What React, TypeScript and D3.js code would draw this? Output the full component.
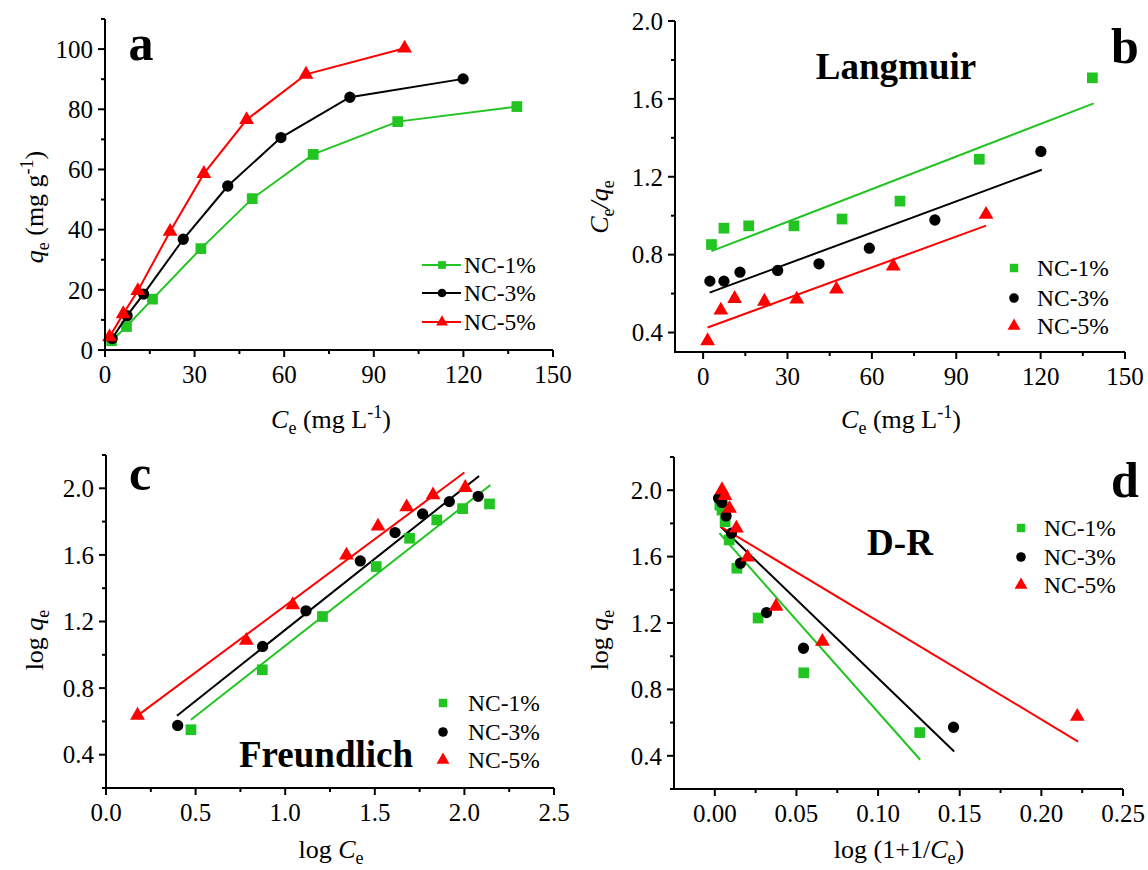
import React from 'react';
import * as d3 from 'd3';

const FONT = "'Liberation Serif','Times New Roman',Times,serif";
const GREEN = '#22c422';
const BLACK = '#000000';
const RED = '#ff0000';

const seriesNames = ['NC-1%', 'NC-3%', 'NC-5%'];

// Panel a: qe vs Ce
const aGreenX = [2.2, 7.2, 15.9, 32.1, 49.3, 69.7, 98.0, 137.9];
const aGreenY = [3.1, 7.8, 16.9, 33.7, 50.3, 65.0, 75.9, 80.9];
const aBlackX = [2.4, 7.4, 12.9, 26.2, 41.1, 58.9, 82.0, 119.9];
const aBlackY = [3.8, 11.4, 18.6, 36.8, 54.5, 70.6, 84.0, 90.1];
const aRedX = [1.5, 6.1, 11.0, 21.8, 33.1, 47.4, 67.3, 100.3];
const aRedY = [4.3, 12.0, 19.7, 39.4, 58.6, 76.5, 91.6, 100.3];

// Panel b: Langmuir Ce/qe vs Ce
const bGreenX = [2.96, 7.4, 16.2, 32.3, 49.4, 70.0, 98.2, 138.4];
const bGreenY = [0.852, 0.936, 0.948, 0.948, 0.983, 1.075, 1.29, 1.708];
const bBlackX = [2.4, 7.4, 13.1, 26.5, 41.2, 59.1, 82.4, 120.1];
const bBlackY = [0.664, 0.664, 0.71, 0.719, 0.753, 0.833, 0.978, 1.33];
const bRedX = [1.6, 6.3, 11.2, 21.8, 33.3, 47.4, 67.6, 100.6];
const bRedY = [0.357, 0.514, 0.574, 0.56, 0.571, 0.622, 0.741, 1.006];
const bGreenFit = [2.96, 0.818, 138.9, 1.577];
const bBlackFit = [2.3, 0.605, 120.4, 1.236];
const bRedFit = [1.6, 0.426, 100.6, 0.949];

// Panel c: Freundlich log qe vs log Ce
const cGreenX = [0.474, 0.872, 1.208, 1.508, 1.694, 1.846, 1.99, 2.14];
const cGreenY = [0.55, 0.91, 1.23, 1.53, 1.70, 1.81, 1.878, 1.906];
const cBlackX = [0.40, 0.874, 1.116, 1.419, 1.613, 1.767, 1.916, 2.077];
const cBlackY = [0.576, 1.05, 1.264, 1.564, 1.734, 1.846, 1.92, 1.952];
const cRedX = [0.176, 0.783, 1.042, 1.342, 1.518, 1.678, 1.825, 2.005];
const cRedY = [0.636, 1.086, 1.30, 1.598, 1.772, 1.888, 1.96, 2.004];
const cGreenFit = [0.474, 0.61, 2.145, 2.02];
const cBlackFit = [0.396, 0.634, 2.082, 2.074];
const cRedFit = [0.17, 0.63, 2.0, 2.095];

// Panel d: D-R log qe vs log(1+1/Ce)
const dGreenX = [0.0031, 0.0044, 0.0063, 0.0088, 0.0135, 0.0265, 0.0545, 0.1255];
const dGreenY = [1.91, 1.88, 1.81, 1.70, 1.53, 1.23, 0.90, 0.54];
const dBlackX = [0.0023, 0.0044, 0.0069, 0.0102, 0.0157, 0.0317, 0.0543, 0.1462];
const dBlackY = [1.952, 1.926, 1.845, 1.741, 1.56, 1.263, 1.048, 0.572];
const dRedX = [0.0044, 0.0062, 0.009, 0.0132, 0.0201, 0.0375, 0.0659, 0.222];
const dRedY = [2.002, 1.966, 1.89, 1.771, 1.596, 1.30, 1.088, 0.637];
const dGreenFit = [0.0028, 1.741, 0.1258, 0.376];
const dBlackFit = [0.0035, 1.781, 0.1466, 0.426];
const dRedFit = [0.0035, 1.781, 0.2225, 0.486];

// Ticks
const aXTicks = [0, 30, 60, 90, 120, 150];
const aXMinor = [15, 45, 75, 105, 135];
const aYTicks = [0, 20, 40, 60, 80, 100];
const aYMinor = [10, 30, 50, 70, 90, 110];
const bXTicks = [0, 30, 60, 90, 120, 150];
const bXMinor = [15, 45, 75, 105, 135];
const bYTicks = [0.4, 0.8, 1.2, 1.6, 2.0];
const bYMinor = [0.6, 1.0, 1.4, 1.8];
const cXTicks = [0, 0.5, 1.0, 1.5, 2.0, 2.5];
const cXMinor = [0.25, 0.75, 1.25, 1.75, 2.25];
const cYTicks = [0.4, 0.8, 1.2, 1.6, 2.0];
const cYMinor = [0.2, 0.6, 1.0, 1.4, 1.8, 2.2];
const dXTicks = [0, 0.05, 0.1, 0.15, 0.2, 0.25];
const dXMinor = [0.025, 0.075, 0.125, 0.175, 0.225];
const dYTicks = [0.4, 0.8, 1.2, 1.6, 2.0];
const dYMinor = [0.2, 0.6, 1.0, 1.4, 1.8, 2.2];

type Shape = 'square' | 'circle' | 'triangle';
type Series = { x: number[]; y: number[]; color: string; shape: Shape; fit?: number[] };

const SIZES: Record<Shape, number> = { square: 115, circle: 100, triangle: 95 };

function symPath(shape: Shape, size: number) {
  const t = shape === 'square' ? d3.symbolSquare : shape === 'circle' ? d3.symbolCircle : d3.symbolTriangle;
  return d3.symbol().type(t).size(size)() as string;
}

type PanelProps = {
  px: [number, number];
  py: [number, number];
  xd: [number, number];
  yd: [number, number];
  xTicks: number[];
  xMinor: number[];
  yTicks: number[];
  yMinor: number[];
  xFmt: (v: number) => string;
  yFmt: (v: number) => string;
  series: Series[];
  connect?: boolean;
  legend: { markerX: number; textX: number; rows: number[]; line?: [number, number]; msize?: number };
};

function Panel(p: PanelProps) {
  const x = d3.scaleLinear().domain(p.xd).range(p.px);
  const y = d3.scaleLinear().domain(p.yd).range(p.py);
  const ax = p.px[0];
  const ay = p.py[0];
  const line = d3.line<[number, number]>().x((d) => x(d[0])).y((d) => y(d[1]));
  const msize = p.legend.msize ?? 72;
  return (
    <g>
      {p.series.map((s, i) =>
        s.fit ? (
          <path key={'f' + i} d={line([[s.fit[0], s.fit[1]], [s.fit[2], s.fit[3]]]) as string} stroke={s.color} strokeWidth={2} fill="none" />
        ) : null
      )}
      {p.series.map((s, i) => (
        <g key={'s' + i}>
          {p.connect ? (
            <path d={line(s.x.map((v, j) => [v, s.y[j]] as [number, number])) as string} stroke={s.color} strokeWidth={2} fill="none" />
          ) : null}
          {s.x.map((v, j) => (
            <path key={j} d={symPath(s.shape, SIZES[s.shape])} transform={`translate(${x(v)},${y(s.y[j])})`} fill={s.color} />
          ))}
        </g>
      ))}
      <line x1={ax} x2={p.px[1]} y1={ay} y2={ay} stroke="#000" strokeWidth={2} />
      <line x1={ax} x2={ax} y1={ay + 1} y2={p.py[1]} stroke="#000" strokeWidth={2} />
      {p.xTicks.map((t) => (
        <g key={'xt' + t}>
          <line x1={x(t)} x2={x(t)} y1={ay} y2={ay + 7} stroke="#000" strokeWidth={2} />
          <text x={x(t)} y={ay + 33} textAnchor="middle" fontSize={25} fontFamily={FONT}>
            {p.xFmt(t)}
          </text>
        </g>
      ))}
      {p.xMinor.map((t) => (
        <line key={'xm' + t} x1={x(t)} x2={x(t)} y1={ay} y2={ay + 4} stroke="#000" strokeWidth={2} />
      ))}
      {p.yTicks.map((t) => (
        <g key={'yt' + t}>
          <line x1={ax} x2={ax - 7} y1={y(t)} y2={y(t)} stroke="#000" strokeWidth={2} />
          <text x={ax - 12} y={y(t)} dy="0.35em" textAnchor="end" fontSize={25} fontFamily={FONT}>
            {p.yFmt(t)}
          </text>
        </g>
      ))}
      {p.yMinor.map((t) => (
        <line key={'ym' + t} x1={ax} x2={ax - 4} y1={y(t)} y2={y(t)} stroke="#000" strokeWidth={2} />
      ))}
      {p.series.map((s, i) => (
        <g key={'l' + i}>
          {p.legend.line ? (
            <line x1={p.legend.line[0]} x2={p.legend.line[1]} y1={p.legend.rows[i]} y2={p.legend.rows[i]} stroke={s.color} strokeWidth={2} />
          ) : null}
          <path d={symPath(s.shape, msize)} transform={`translate(${p.legend.markerX},${p.legend.rows[i]})`} fill={s.color} />
          <text x={p.legend.textX} y={p.legend.rows[i]} dy="0.35em" fontSize={23.5} fontFamily={FONT}>
            {seriesNames[i]}
          </text>
        </g>
      ))}
    </g>
  );
}

const f0 = (v: number) => d3.format('d')(v);
const f1 = (v: number) => d3.format('.1f')(v);
const f2 = (v: number) => d3.format('.2f')(v);

export default function App() {
  const aSeries: Series[] = [
    { x: aGreenX, y: aGreenY, color: GREEN, shape: 'square' },
    { x: aBlackX, y: aBlackY, color: BLACK, shape: 'circle' },
    { x: aRedX, y: aRedY, color: RED, shape: 'triangle' },
  ];
  const bSeries: Series[] = [
    { x: bGreenX, y: bGreenY, color: GREEN, shape: 'square', fit: bGreenFit },
    { x: bBlackX, y: bBlackY, color: BLACK, shape: 'circle', fit: bBlackFit },
    { x: bRedX, y: bRedY, color: RED, shape: 'triangle', fit: bRedFit },
  ];
  const cSeries: Series[] = [
    { x: cGreenX, y: cGreenY, color: GREEN, shape: 'square', fit: cGreenFit },
    { x: cBlackX, y: cBlackY, color: BLACK, shape: 'circle', fit: cBlackFit },
    { x: cRedX, y: cRedY, color: RED, shape: 'triangle', fit: cRedFit },
  ];
  const dSeries: Series[] = [
    { x: dGreenX, y: dGreenY, color: GREEN, shape: 'square', fit: dGreenFit },
    { x: dBlackX, y: dBlackY, color: BLACK, shape: 'circle', fit: dBlackFit },
    { x: dRedX, y: dRedY, color: RED, shape: 'triangle', fit: dRedFit },
  ];
  const T = { fontFamily: FONT, fontSize: 26 } as const;
  const SUB = 18;
  return (
    <svg width={1148} height={870} style={{ position: 'absolute', left: 0, top: 0, background: '#fff' }}>
      <rect width={1148} height={870} fill="#fff" />
      <Panel px={[105, 553]} py={[350, 19]} xd={[0, 150]} yd={[0, 110]} xTicks={aXTicks} xMinor={aXMinor} yTicks={aYTicks} yMinor={aYMinor}
        xFmt={f0} yFmt={f0} series={aSeries} connect
        legend={{ markerX: 442, textX: 464, rows: [265, 293, 322], line: [422, 461], msize: 60 }} />
      <Panel px={[675, 1125]} py={[352, 21]} xd={[-10, 150]} yd={[0.3, 2.0]} xTicks={bXTicks} xMinor={bXMinor} yTicks={bYTicks} yMinor={bYMinor}
        xFmt={f0} yFmt={f1} series={bSeries}
        legend={{ markerX: 1014, textX: 1037, rows: [268, 298, 326] }} />
      <Panel px={[106, 554]} py={[788, 455]} xd={[0, 2.5]} yd={[0.2, 2.2]} xTicks={cXTicks} xMinor={cXMinor} yTicks={cYTicks} yMinor={cYMinor}
        xFmt={f1} yFmt={f1} series={cSeries}
        legend={{ markerX: 443, textX: 468, rows: [703, 732, 760] }} />
      <Panel px={[674, 1123]} py={[789, 457]} xd={[-0.025, 0.25]} yd={[0.2, 2.2]} xTicks={dXTicks} xMinor={dXMinor} yTicks={dYTicks} yMinor={dYMinor}
        xFmt={f2} yFmt={f1} series={dSeries}
        legend={{ markerX: 1021, textX: 1044, rows: [528, 557, 585] }} />

      <text x={141} y={60} textAnchor="middle" fontSize={50} fontWeight="bold" fontFamily={FONT}>a</text>
      <text x={1125} y={63} textAnchor="middle" fontSize={50} fontWeight="bold" fontFamily={FONT}>b</text>
      <text x={140} y={490} textAnchor="middle" fontSize={50} fontWeight="bold" fontFamily={FONT}>c</text>
      <text x={1125} y={497} textAnchor="middle" fontSize={50} fontWeight="bold" fontFamily={FONT}>d</text>

      <text x={896} y={79} textAnchor="middle" fontSize={37} fontWeight="bold" fontFamily={FONT}>Langmuir</text>
      <text x={326} y={767} textAnchor="middle" fontSize={37} fontWeight="bold" fontFamily={FONT}>Freundlich</text>
      <text x={900} y={555} textAnchor="middle" fontSize={37} fontWeight="bold" fontFamily={FONT}>D-R</text>

      <text x={331} y={428} textAnchor="middle" {...T}>
        <tspan fontStyle="italic">C</tspan>
        <tspan fontSize={SUB} dy={6}>e</tspan>
        <tspan dy={-6}> (mg L</tspan>
        <tspan fontSize={SUB} dy={-10}>-1</tspan>
        <tspan dy={10}>)</tspan>
      </text>
      <text transform="translate(43,207) rotate(-90)" textAnchor="middle" {...T}>
        <tspan fontStyle="italic">q</tspan>
        <tspan fontSize={SUB} dy={6}>e</tspan>
        <tspan dy={-6}> (mg g</tspan>
        <tspan fontSize={SUB} dy={-10}>-1</tspan>
        <tspan dy={10}>)</tspan>
      </text>
      <text x={901} y={428} textAnchor="middle" {...T}>
        <tspan fontStyle="italic">C</tspan>
        <tspan fontSize={SUB} dy={6}>e</tspan>
        <tspan dy={-6}> (mg L</tspan>
        <tspan fontSize={SUB} dy={-10}>-1</tspan>
        <tspan dy={10}>)</tspan>
      </text>
      <text transform="translate(608,207) rotate(-90)" textAnchor="middle" {...T}>
        <tspan fontStyle="italic">C</tspan>
        <tspan fontSize={SUB} dy={6}>e</tspan>
        <tspan dy={-6} fontStyle="italic">/q</tspan>
        <tspan fontSize={SUB} dy={6}>e</tspan>
      </text>
      <text x={331} y={858} textAnchor="middle" {...T}>
        <tspan>log </tspan>
        <tspan fontStyle="italic">C</tspan>
        <tspan fontSize={SUB} dy={6}>e</tspan>
      </text>
      <text transform="translate(43,640) rotate(-90)" textAnchor="middle" {...T}>
        <tspan>log </tspan>
        <tspan fontStyle="italic">q</tspan>
        <tspan fontSize={SUB} dy={6}>e</tspan>
      </text>
      <text x={899} y={858} textAnchor="middle" {...T}>
        <tspan>log (1+1/</tspan>
        <tspan fontStyle="italic">C</tspan>
        <tspan fontSize={SUB} dy={6}>e</tspan>
        <tspan dy={-6}>)</tspan>
      </text>
      <text transform="translate(608,640) rotate(-90)" textAnchor="middle" {...T}>
        <tspan>log </tspan>
        <tspan fontStyle="italic">q</tspan>
        <tspan fontSize={SUB} dy={6}>e</tspan>
      </text>
    </svg>
  );
}
